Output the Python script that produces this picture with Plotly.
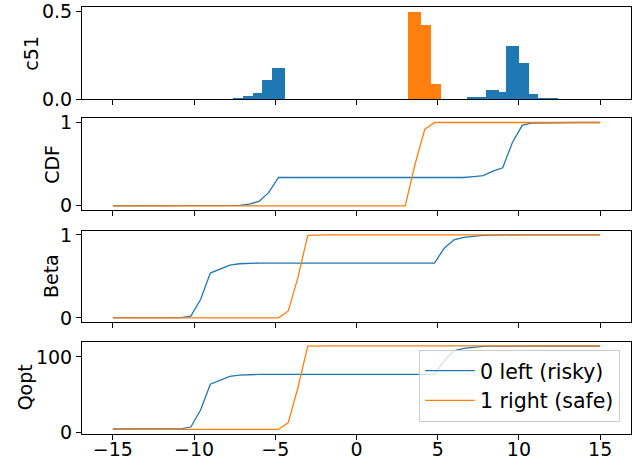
import plotly.graph_objects as go
from plotly.subplots import make_subplots

# C51 support atoms
atoms = [-15.0, -14.4, -13.8, -13.2, -12.6, -12.0, -11.4, -10.8, -10.2, -9.6,
         -9.0, -8.4, -7.8, -7.2, -6.6, -6.0, -5.4, -4.8, -4.2, -3.6,
         -3.0, -2.4, -1.8, -1.2, -0.6, 0.0, 0.6, 1.2, 1.8, 2.4,
         3.0, 3.6, 4.2, 4.8, 5.4, 6.0, 6.6, 7.2, 7.8, 8.4,
         9.0, 9.6, 10.2, 10.8, 11.4, 12.0, 12.6, 13.2, 13.8, 14.4, 15.0]

series_names = ["0 left (risky)", "1 right (safe)"]

c51_left = [0]*13 + [0.006, 0.015, 0.032, 0.108, 0.179] + [0]*17 + \
           [0, 0, 0.011, 0.012, 0.053, 0.041, 0.303, 0.205, 0.029, 0.003, 0.003] + [0]*5
c51_right = [0]*31 + [0.496, 0.420, 0.084] + [0]*17

cdf_left = [0]*13 + [0.006, 0.021, 0.053, 0.161, 0.34] + [0.34]*17 + \
           [0.340, 0.340, 0.351, 0.363, 0.416, 0.457, 0.76, 0.965, 0.994, 0.997, 1.0] + [1.0]*5
cdf_right = [0]*31 + [0.496, 0.916, 1.0] + [1.0]*17

beta_left = [0.002]*8 + [0.02, 0.22, 0.54, 0.587, 0.635, 0.652, 0.658, 0.66] + [0.66]*18 + \
            [0.84, 0.94, 0.97, 0.985, 0.993, 0.997] + [1.0]*11
beta_right = [0.0]*18 + [0.083, 0.49, 0.995] + [1.0]*30

qopt_left = [5.0]*8 + [7.5, 30, 64, 69.5, 74.5, 76, 76.8, 77] + [77]*18 + \
            [95, 108, 111.5, 113, 114, 114.3] + [114.5]*11
qopt_right = [4.3]*18 + [13.5, 60, 114.2] + [114.6]*30

panel_titles = ["c51", "CDF", "Beta", "Qopt"]
ytick_vals = [[0, 0.5], [0, 1], [0, 1], [0, 100]]
ytick_text = [["0.0", "0.5"], ["0", "1"], ["0", "1"], ["0", "100"]]
xtick_vals = [-15, -10, -5, 0, 5, 10, 15]

BLUE = "#1f77b4"
ORANGE = "#ff7f0e"
FS = 19
FS_LEG = 20.5

fig = make_subplots(rows=4, cols=1, shared_xaxes=True)

for vals, col in [(c51_left, BLUE), (c51_right, ORANGE)]:
    order = sorted(range(len(atoms)), key=lambda i: vals[i])
    fig.add_trace(go.Bar(x=[atoms[i] for i in order], y=[vals[i] for i in order],
                         width=0.8, marker=dict(color=col, line=dict(width=0)),
                         showlegend=False), row=1, col=1)

for row, (a, b) in enumerate([(cdf_left, cdf_right), (beta_left, beta_right),
                              (qopt_left, qopt_right)], start=2):
    for vals, col, name in [(a, BLUE, series_names[0]), (b, ORANGE, series_names[1])]:
        fig.add_trace(go.Scatter(x=atoms, y=vals, mode="lines", name=name,
                                 line=dict(color=col, width=1.3),
                                 showlegend=(row == 4)),
                      row=row, col=1)

domains = [[0.7845, 0.9993], [0.5246, 0.7393], [0.2623, 0.4761], [0.0, 0.2162]]
yranges = [[0, 0.522], [-0.05, 1.05], [-0.05, 1.05], [-1.7, 120.2]]
title_x_px = [31.5, 51.7, 51.7, 24.5]

L, R, T, B = 82, 6, 7, 25
W, H = 637, 459
plot_w = W - L - R

axis_common = dict(showline=True, linecolor="black", linewidth=1, mirror=True,
                   ticks="outside", ticklen=5, tickwidth=1, tickcolor="black",
                   showgrid=False, zeroline=False, automargin=False,
                   ticklabeloverflow="allow")

annotations = []
for i in range(4):
    sfx = "" if i == 0 else str(i + 1)
    fig.layout["xaxis" + sfx].update(domain=[0, 1], range=[-16.9, 16.9],
                                     tickvals=xtick_vals, ticklabelstandoff=-7,
                                     showticklabels=(i == 3), **axis_common)
    fig.layout["yaxis" + sfx].update(domain=domains[i], range=yranges[i],
                                     tickvals=ytick_vals[i], ticktext=ytick_text[i],
                                     **axis_common)
    annotations.append(dict(text=panel_titles[i], textangle=-90, showarrow=False,
                            xref="paper", yref="paper",
                            x=(title_x_px[i] - L) / plot_w, xanchor="center",
                            y=sum(domains[i]) / 2, yanchor="middle",
                            font=dict(size=FS)))

fig.update_layout(
    width=W, height=H,
    margin=dict(l=L, r=R, t=T, b=B),
    barmode="overlay", bargap=0,
    hovermode=False,
    plot_bgcolor="white", paper_bgcolor="white",
    font=dict(family="DejaVu Sans", size=FS, color="black"),
    annotations=annotations,
    legend=dict(x=(620 - L) / plot_w, xanchor="right", y=0.197, yanchor="top",
                bgcolor="rgba(255,255,255,0.8)", bordercolor="#cccccc", borderwidth=1,
                itemwidth=50, font=dict(size=FS_LEG)),
)

fig.write_html("out.html",
               config={"displayModeBar": False, "staticPlot": True},
               post_script="document.body.style.margin='0';document.body.style.padding='0';")
